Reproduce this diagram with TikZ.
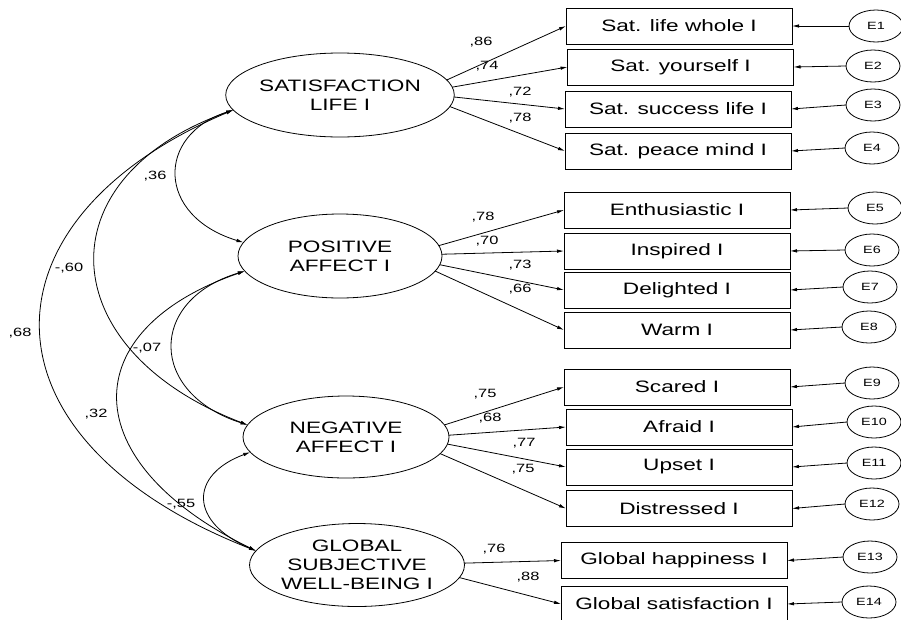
\documentclass[tikz,border=0pt]{standalone}
\usepackage{fontspec}
\setmainfont{Liberation Sans}[FakeStretch=1.37]
\usetikzlibrary{shapes.geometric,arrows.meta}
\begin{document}
\begin{tikzpicture}[x=1pt,y=-1pt,
  every node/.style={inner sep=0pt, outer sep=0pt},
  lat/.style={draw, ellipse, minimum width=204pt, minimum height=84pt, align=center, font=\fontsize{16.5}{19}\selectfont, line width=0.8pt},
  obs/.style={draw, rectangle, minimum width=226pt, minimum height=36pt, font=\fontsize{16.5}{19}\selectfont, line width=0.8pt},
  err/.style={draw, ellipse, minimum width=54pt, minimum height=32pt, font=\fontsize{10.5}{12}\selectfont, line width=0.8pt},
  lbl/.style={font=\fontsize{12}{14}\selectfont},
  ld/.style={-{Latex[length=7pt,width=3.5pt]}, line width=0.8pt},
  cv/.style={{Latex[length=7pt,width=3.5pt]}-{Latex[length=7pt,width=3.5pt]}, line width=0.8pt}
]
\useasboundingbox (0,0) rectangle (901,619);

% latent variables
\node[lat] (sat) at (340,95) {SATISFACTION\\LIFE I};
\node[lat] (pos) at (340,256) {POSITIVE\\AFFECT I};
\node[lat, minimum width=206pt, minimum height=82pt] (neg) at (346,437) {NEGATIVE\\AFFECT I};
\node[lat, minimum height=83pt] (glo) at (357,565) {GLOBAL\\SUBJECTIVE\\WELL-BEING I};

% observed variables
\node[obs] (b1) at (679,26) {Sat. life whole I};
\node[obs] (b2) at (680.5,67) {Sat. yourself I};
\node[obs] (b3) at (678,109) {Sat. success life I};
\node[obs] (b4) at (678,151) {Sat. peace mind I};
\node[obs] (b5) at (677,210) {Enthusiastic I};
\node[obs] (b6) at (677,251) {Inspired I};
\node[obs] (b7) at (677,290) {Delighted I};
\node[obs] (b8) at (677,330) {Warm I};
\node[obs] (b9) at (677,387) {Scared I};
\node[obs] (b10) at (679,427) {Afraid I};
\node[obs] (b11) at (679,467) {Upset I};
\node[obs] (b12) at (679,508.5) {Distressed I};
\node[obs] (b13) at (674,560.5) {Global happiness I};
\node[obs] (b14) at (674,604) {Global satisfaction I};

% error terms
\node[err] (e1) at (876,26) {E1};
\node[err] (e2) at (873,66) {E2};
\node[err] (e3) at (873,105) {E3};
\node[err] (e4) at (872,148) {E4};
\node[err] (e5) at (875,208) {E5};
\node[err] (e6) at (872,250) {E6};
\node[err] (e7) at (870,287) {E7};
\node[err] (e8) at (869,327) {E8};
\node[err] (e9) at (872,383) {E9};
\node[err] (e10) at (874,422) {E10};
\node[err] (e11) at (874,463) {E11};
\node[err] (e12) at (872,504) {E12};
\node[err] (e13) at (870,557) {E13};
\node[err] (e14) at (869,602) {E14};

% loadings
\draw[ld] (sat.8) -- (b1.west);
\draw[ld] (sat.4) -- (b2.west);
\draw[ld] (sat.-1) -- (b3.west);
\draw[ld] (sat.-6) -- (b4.west);
\draw[ld] (pos.6) -- (b5.west);
\draw[ld] (pos.1) -- (b6.west);
\draw[ld] (pos.-5) -- (b7.west);
\draw[ld] (pos.-9) -- (b8.west);
\draw[ld] (neg.7) -- (b9.west);
\draw[ld] (neg.1) -- (b10.west);
\draw[ld] (neg.-4) -- (b11.west);
\draw[ld] (neg.-10) -- (b12.west);
\draw[ld] (glo.1) -- (b13.west);
\draw[ld] (glo.-7) -- (b14.west);

% error arrows
\foreach \i in {1,...,14} { \draw[ld] (e\i.west) -- (b\i.east); }

% covariances
\draw[cv] (sat.188) .. controls (156,135) and (156,216) .. (pos.172);
\draw[cv] (sat.188) .. controls (42,178) and (52,350) .. (neg.173);
\draw[cv] (sat.188) .. controls (-27,220) and (-27,440) .. (glo.172);
\draw[cv] (pos.189) .. controls (148,300) and (148,393) .. (neg.173);
\draw[cv] (pos.189) .. controls (74,330) and (74,462) .. (glo.172);
\draw[cv] (neg.189) .. controls (189,475) and (189,522) .. (glo.172);

% covariance labels
\node[lbl] (c1) at (155,176) {,36};
\node[lbl] (c2) at (69,268) {-,60};
\node[lbl] (c3) at (20,333) {,68};
\node[lbl] (c4) at (147,348) {-,07};
\node[lbl] (c5) at (96,414) {,32};
\node[lbl] (c6) at (181,504) {-,55};

% loading labels
\node[lbl] (l1) at (481,42) {,86};
\node[lbl] (l2) at (487,66) {,74};
\node[lbl] (l3) at (520,92) {,72};
\node[lbl] (l4) at (520,118) {,78};
\node[lbl] (l5) at (483,217) {,78};
\node[lbl] (l6) at (487,241) {,70};
\node[lbl] (l7) at (520,265) {,73};
\node[lbl] (l8) at (520,289) {,66};
\node[lbl] (l9) at (485,394) {,75};
\node[lbl] (l10) at (490,418) {,68};
\node[lbl] (l11) at (524,443) {,77};
\node[lbl] (l12) at (523,469) {,75};
\node[lbl] (l13) at (494,549) {,76};
\node[lbl] (l14) at (528,577) {,88};
\end{tikzpicture}
\end{document}
